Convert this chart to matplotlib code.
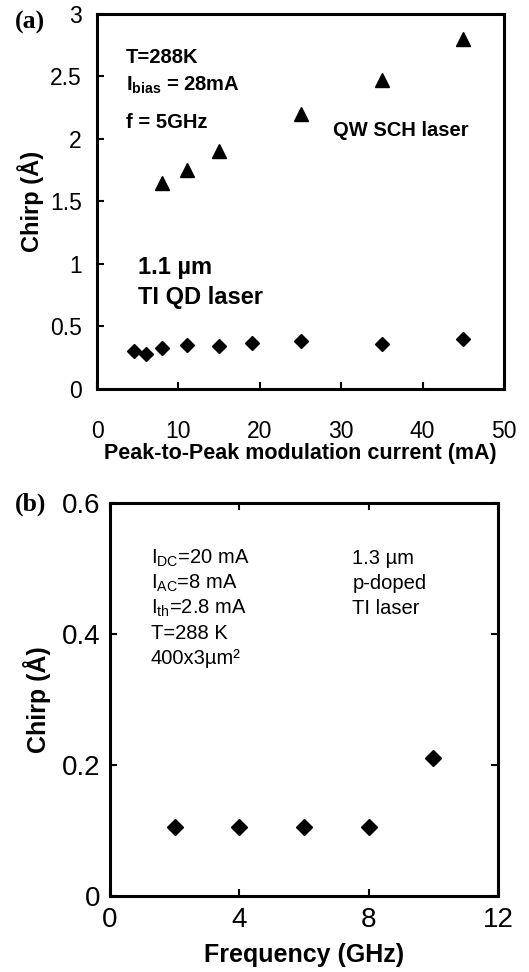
import matplotlib
matplotlib.use("Agg")
import matplotlib.pyplot as plt

plt.rcParams['font.family'] = ['Liberation Sans', 'DejaVu Sans']
plt.rcParams['mathtext.fontset'] = 'custom'
plt.rcParams['mathtext.rm'] = 'Liberation Sans'
plt.rcParams['mathtext.bf'] = 'Liberation Sans:bold'

# panel (a): chirp vs peak-to-peak modulation current
qw_current = [8, 11, 15, 25, 35, 45]
qw_chirp = [1.65, 1.75, 1.9, 2.2, 2.47, 2.8]
qd_current = [4.5, 6, 8, 11, 15, 19, 25, 35, 45]
qd_chirp = [0.3, 0.28, 0.33, 0.35, 0.34, 0.37, 0.38, 0.36, 0.4]
a_xticks = [0, 10, 20, 30, 40, 50]
a_yticks = [0, 0.5, 1, 1.5, 2, 2.5, 3]
a_yticklabels = ["0", "0.5", "1", "1.5", "2", "2.5", "3"]

# panel (b): chirp vs frequency
freq = [2, 4, 6, 8, 10]
freq_chirp = [0.105, 0.105, 0.105, 0.105, 0.21]
b_xticks = [0, 4, 8, 12]
b_yticks = [0, 0.2, 0.4, 0.6]
b_yticklabels = ["0", "0.2", "0.4", "0.6"]

fig = plt.figure(figsize=(5.29, 9.72), dpi=100)

# ---- (a)
ax1 = fig.add_axes([0.1834, 0.5998, 0.7694, 0.3858])
ax1.plot(qw_current, qw_chirp, '^', color='black', ms=10, ls='none')
ax1.plot(qd_current, qd_chirp, 'D', color='black', ms=7.5, ls='none')
ax1.set_xlim(0, 50)
ax1.set_ylim(0, 3)
ax1.set_xticks(a_xticks)
ax1.set_yticks(a_yticks)
ax1.set_yticklabels(a_yticklabels)
ax1.tick_params(direction='in', length=5, width=1.5, labelsize=16.5)
ax1.tick_params(axis='x', pad=22)
ax1.tick_params(axis='y', pad=11)
for s in ax1.spines.values():
    s.set_linewidth(2.2)
ax1.set_xlabel("Peak-to-Peak modulation current (mA)", fontsize=15.5,
               fontweight='bold', labelpad=0)
ax1.set_ylabel("Chirp (Å)", fontsize=17, fontweight='bold', labelpad=4)

ax1.text(0.07, 0.885, "T=288K", transform=ax1.transAxes, fontsize=14.5,
         fontweight='bold', va='center')
ax1.text(0.07, 0.81, r"I$_{\mathbf{bias}}$ = 28mA", transform=ax1.transAxes,
         fontsize=14.5, fontweight='bold', va='center')
ax1.text(0.07, 0.71, "f = 5GHz", transform=ax1.transAxes, fontsize=14.5,
         fontweight='bold', va='center')
ax1.text(0.58, 0.69, "QW SCH laser", transform=ax1.transAxes, fontsize=14.5,
         fontweight='bold', va='center')
ax1.text(0.1, 0.325, "1.1 µm", transform=ax1.transAxes, fontsize=17,
         fontweight='bold', va='center')
ax1.text(0.1, 0.245, "TI QD laser", transform=ax1.transAxes, fontsize=17,
         fontweight='bold', va='center')
fig.text(0.028, 0.977, "(a)", fontsize=18.5, fontweight='bold',
         family='Liberation Serif', va='center')

# ---- (b)
ax2 = fig.add_axes([0.2079, 0.0782, 0.7335, 0.4043])
ax2.plot(freq, freq_chirp, 'D', color='black', ms=8, ls='none')
ax2.set_xlim(0, 12)
ax2.set_ylim(0, 0.6)
ax2.set_xticks(b_xticks)
ax2.set_yticks(b_yticks)
ax2.set_yticklabels(b_yticklabels)
ax2.tick_params(direction='in', length=5, width=1.5, labelsize=20,
                top=True, right=True)
ax2.tick_params(axis='x', pad=8)
ax2.tick_params(axis='y', pad=7)
for s in ax2.spines.values():
    s.set_linewidth(2.2)
ax2.set_xlabel("Frequency (GHz)", fontsize=18, fontweight='bold', labelpad=7)
ax2.set_ylabel("Chirp (Å)", fontsize=18, fontweight='bold', labelpad=8)

left_lines = [r"I$_{\mathrm{DC}}$=20 mA", r"I$_{\mathrm{AC}}$=8 mA",
              r"I$_{\mathrm{th}}$=2.8 mA", "T=288 K", "400x3µm²"]
right_lines = ["1.3 µm", "p-doped", "TI laser"]
for i, t in enumerate(left_lines):
    ax2.text(0.105, 0.86 - i * 0.064, t, transform=ax2.transAxes,
             fontsize=14.5, va='center')
for i, t in enumerate(right_lines):
    ax2.text(0.625, 0.86 - i * 0.064, t, transform=ax2.transAxes,
             fontsize=14.5, va='center')
fig.text(0.028, 0.481, "(b)", fontsize=18.5, fontweight='bold',
         family='Liberation Serif', va='center')

fig.savefig("out.png", dpi=100)
